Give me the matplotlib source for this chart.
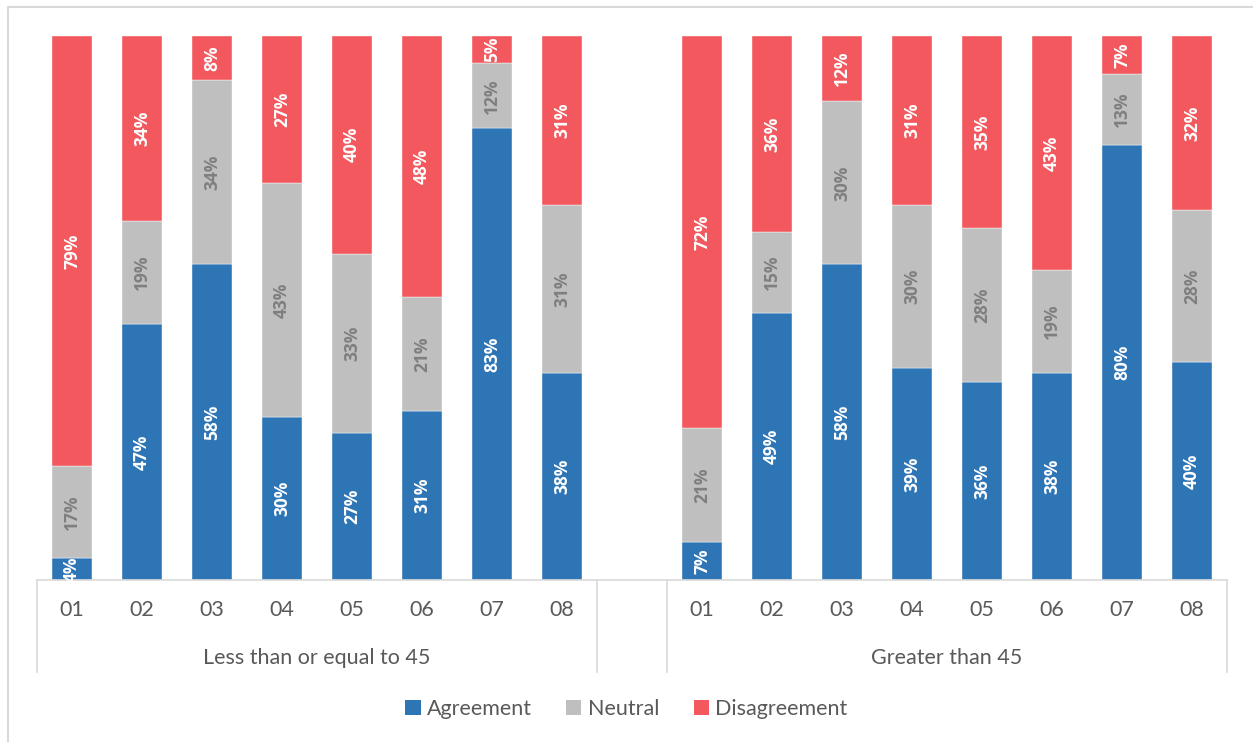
import matplotlib

matplotlib.use("Agg")
import matplotlib.pyplot as plt
from matplotlib.patches import Patch, Rectangle
import numpy as np

plt.rcParams["font.family"] = ["Lato", "DejaVu Sans"]

items = ["01", "02", "03", "04", "05", "06", "07", "08"]
groups = ["Less than or equal to 45", "Greater than 45"]
series = ["Agreement", "Neutral", "Disagreement"]

agree_young = [4, 47, 58, 30, 27, 31, 83, 38]
neutral_young = [17, 19, 34, 43, 33, 21, 12, 31]
disagree_young = [79, 34, 8, 27, 40, 48, 5, 31]

agree_old = [7, 49, 58, 39, 36, 38, 80, 40]
neutral_old = [21, 15, 30, 30, 28, 19, 13, 28]
disagree_old = [72, 36, 12, 31, 35, 43, 7, 32]

COLORS = ["#2E75B6", "#BFBFBF", "#F2585D"]
LABEL_COLORS = ["white", "#7F7F7F", "white"]
AXIS_GREY = "#D9D9D9"
TEXT_GREY = "#595959"

W, H = 1253, 742
fig = plt.figure(figsize=(W / 100, H / 100), dpi=100)

# plot area in pixels: x 37..1227, y 36..580
ax = fig.add_axes([37 / W, 1 - 580 / H, (1227 - 37) / W, (580 - 36) / H])

n = len(items)
slots = list(range(n)) + list(range(n + 1, 2 * n + 1))
values = np.array([
    agree_young + agree_old,
    neutral_young + neutral_old,
    disagree_young + disagree_old,
], dtype=float)
shares = values / values.sum(axis=0)

bottom = np.zeros(len(slots))
for k, name in enumerate(series):
    ax.bar(slots, shares[k], bottom=bottom, width=0.57, color=COLORS[k],
           edgecolor="white", linewidth=0.3, label=name)
    for x, b, s, v in zip(slots, bottom, shares[k], values[k]):
        ax.text(x, b + s / 2, f"{v:.0f}%", rotation=90, ha="center",
                va="center", color=LABEL_COLORS[k], fontsize=12.5,
                fontweight="bold", family=["Open Sans", "DejaVu Sans"])
    bottom += shares[k]

ax.set_xlim(-0.5, 2 * n + 0.5)
ax.set_ylim(0, 1)
ax.axis("off")

# two-level category axis below the bars
tr = ax.get_xaxis_transform()
depth = -(672 - 580) / 544
ax.plot([-0.5, 2 * n + 0.5], [0, 0], color=AXIS_GREY, lw=1.2,
        transform=tr, clip_on=False)
for xv in (-0.5, n - 0.5, n + 0.5, 2 * n + 0.5):
    ax.plot([xv, xv], [0, depth], color=AXIS_GREY, lw=1.2,
            transform=tr, clip_on=False)
for x, lab in zip(slots, items + items):
    ax.text(x, -(610 - 580) / 544, lab, ha="center", va="center",
            fontsize=15.5, color=TEXT_GREY, transform=tr)
for gi, g in enumerate(groups):
    center = gi * (n + 1) + (n - 1) / 2
    ax.text(center, -(658 - 580) / 544, g, ha="center", va="center",
            fontsize=15.5, color=TEXT_GREY, transform=tr)

handles = [Patch(facecolor=c, label=s) for c, s in zip(COLORS, series)]
fig.legend(handles=handles, loc="center", bbox_to_anchor=(0.5, 1 - 709 / H),
           ncol=3, frameon=False, fontsize=15.5, handlelength=0.7,
           handleheight=0.7, handletextpad=0.3, columnspacing=1.6,
           labelcolor=TEXT_GREY)

# chart frame (runs past the right and bottom edges)
fig.patches.append(Rectangle((8 / W, -0.05), 1.1, 1.05 - 7 / H,
                             transform=fig.transFigure, fill=False,
                             edgecolor=AXIS_GREY, lw=1.5))

fig.savefig("out.png", dpi=100)
